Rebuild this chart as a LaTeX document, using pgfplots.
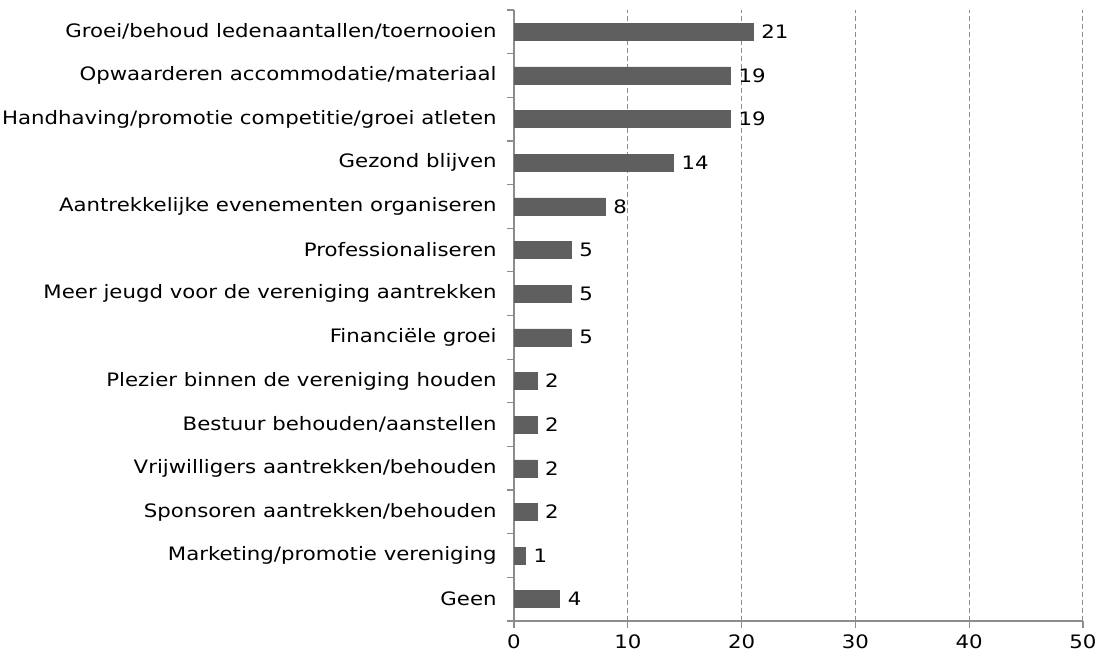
\documentclass[border=0pt]{standalone}
\usepackage{pgfplots}
\pgfplotsset{compat=1.18}
\usepackage{fontspec}
\setmainfont{DejaVu Sans}[FakeStretch=1.15]
\definecolor{barc}{HTML}{5F5F5F}
\definecolor{axc}{HTML}{8C8C8C}
\begin{document}
\fontsize{18.5}{22}\selectfont
\begin{tikzpicture}
\path[use as bounding box] (-514pt,-36pt) rectangle (586pt,621pt);
\begin{axis}[
  at={(0pt,0pt)}, anchor=south west,
  scale only axis, width=569pt, height=611pt,
  xbar, bar width=17pt,
  xmin=0, xmax=50, ymin=-0.5, ymax=13.5,
  xtick={0,10,...,50},
  ytick={0,...,13},
  yticklabels={Geen,Marketing/promotie vereniging,Sponsoren aantrekken/behouden,Vrijwilligers aantrekken/behouden,Bestuur behouden/aanstellen,Plezier binnen de vereniging houden,Financiële groei,Meer jeugd voor de vereniging aantrekken,Professionaliseren,Aantrekkelijke evenementen organiseren,Gezond blijven,Handhaving/promotie competitie/groei atleten,Opwaarderen accommodatie/materiaal,Groei/behoud ledenaantallen/toernooien},
  minor ytick={-0.5,0.5,...,13.5},
  axis x line*=bottom, axis y line*=left,
  axis line style={axc, line width=1.2pt, -},
  tick align=outside,
  major tick length=7pt, minor tick length=7pt,
  y tick style={draw=none},
  minor y tick style={draw=axc, line width=1.2pt},
  x tick style={axc, line width=1.2pt},
  xmajorgrids, grid style={axc, dash pattern=on 5pt off 3pt, line width=1pt},
  tick label style={font=\fontsize{18.5}{22}\selectfont, black},
  yticklabel style={xshift=-4pt},
  xticklabel style={yshift=0pt},
  /pgf/number format/assume math mode=true,
  nodes near coords,
  every node near coord/.append style={font=\fontsize{18.5}{22}\selectfont, black, xshift=2pt},
  clip=false,
]
\addplot[fill=barc, draw=barc] coordinates {
(4,0) (1,1) (2,2) (2,3) (2,4) (2,5) (5,6) (5,7) (5,8) (8,9) (14,10) (19,11) (19,12) (21,13)
};
\end{axis}
\end{tikzpicture}
\end{document}
